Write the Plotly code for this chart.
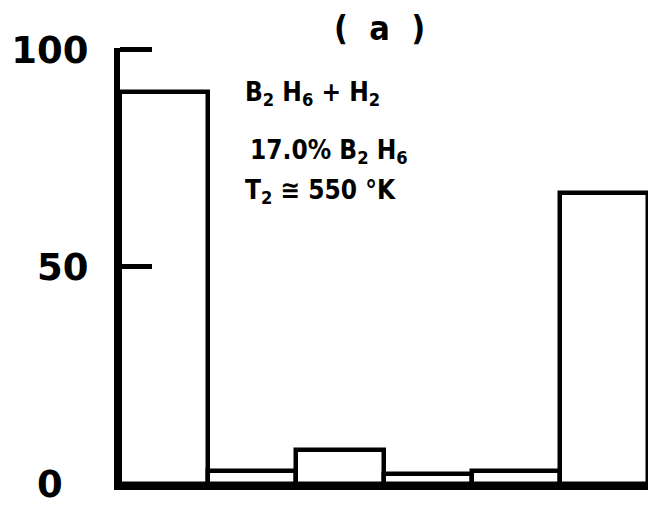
import plotly.graph_objects as go

categories = [0, 1, 2, 3, 4, 5]
values = [90.3, 3.0, 7.9, 2.3, 3.1, 67]
y_ticks = [0, 50, 100]
y_tick_labels = ["0\u00a0\u00a0", "50", "100"]

font_family = "DejaVu Sans"
text_family = "DejaVu Sans Condensed, DejaVu Sans"

fig = go.Figure()
fig.add_trace(go.Bar(
    x=categories, y=values,
    marker=dict(color="white", line=dict(color="black", width=4.5)),
    width=1.0,
))

fig.update_layout(
    width=650, height=506,
    margin=dict(l=120, r=2, t=48, b=22, autoexpand=False),
    paper_bgcolor="white", plot_bgcolor="white",
    showlegend=False,
    bargap=0,
    font=dict(family=font_family, color="black"),
    xaxis=dict(range=[-0.5, 5.5], showticklabels=False, ticks="",
               showgrid=False, zeroline=False, showline=True,
               linecolor="black", linewidth=6, automargin=False),
    yaxis=dict(range=[0, 100.4], tickvals=y_ticks, ticktext=y_tick_labels,
               ticks="inside", ticklen=32, tickwidth=5, tickcolor="black",
               showgrid=False, zeroline=False, showline=True,
               linecolor="black", linewidth=6, ticklabeloverflow="allow",
               automargin=False,
               tickfont=dict(size=37, family=font_family, weight="bold"),
               ticklabelstandoff=18),
)

ann = [
    dict(text="(  a  )", x=0.492, y=1.046, size=34, xanchor="center", ref="paper"),
    dict(text="B<sub>2</sub> H<sub>6</sub> + H<sub>2</sub>", x=0.90, y=89.9, size=26, xanchor="left", ref="data"),
    dict(text="17.0% B<sub>2</sub> H<sub>6</sub>", x=0.95, y=76.6, size=26, xanchor="left", ref="data"),
    dict(text="T<sub>2</sub> ≅ 550 °K", x=0.90, y=67.4, size=26, xanchor="left", ref="data"),
]
for a in ann:
    r = a["ref"]
    fig.add_annotation(text=a["text"], x=a["x"], y=a["y"],
                       xref="paper" if r == "paper" else "x",
                       yref="paper" if r == "paper" else "y",
                       showarrow=False, xanchor=a["xanchor"], yanchor="middle",
                       font=dict(size=a["size"], family=text_family, color="black",
                                 weight="bold"))

fig.write_html("out.html", config={"displayModeBar": False},
               post_script="document.body.style.margin='0';document.body.style.overflow='hidden';")
